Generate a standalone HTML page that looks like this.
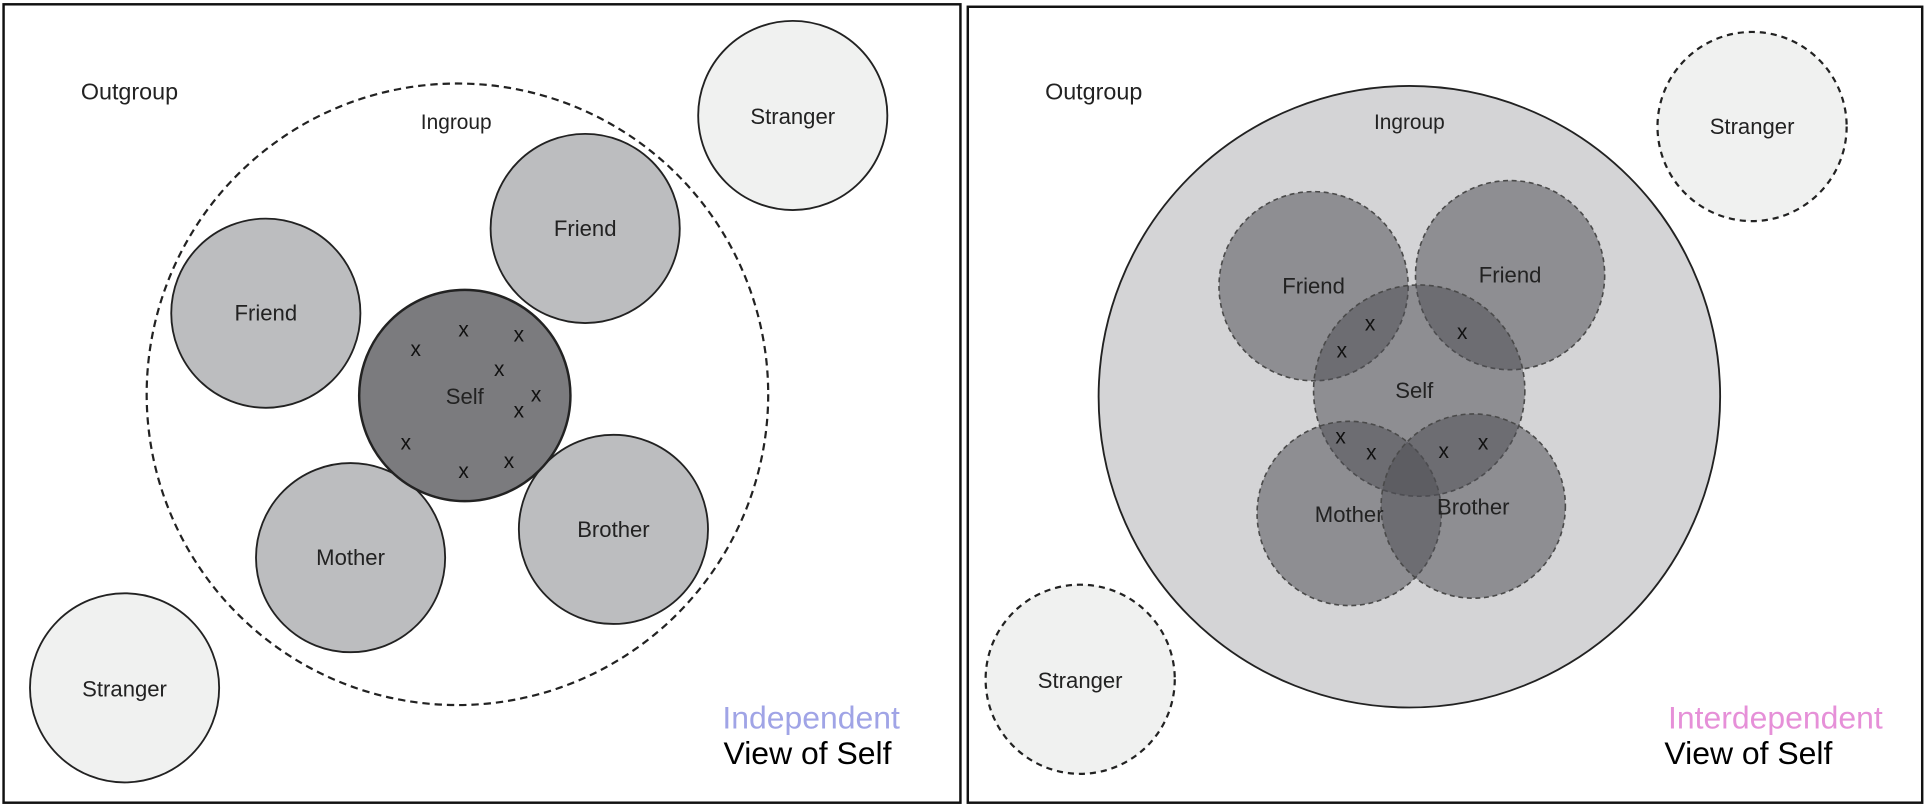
<!DOCTYPE html>
<html><head><meta charset="utf-8"><style>
html,body{margin:0;padding:0;background:#fff;}
svg{display:block}
text{font-family:"Liberation Sans",sans-serif;}
</style></head><body>
<svg width="1927" height="807" viewBox="0 0 1568 657" xmlns="http://www.w3.org/2000/svg">
<rect x="0" y="0" width="1568" height="657" fill="#fff"/>
<!-- Left panel -->
<rect x="2.5" y="3.5" width="779" height="650" fill="none" stroke="#111" stroke-width="2"/>
<text x="105" y="81" font-size="19" text-anchor="middle" fill="#222">Outgroup</text>
<circle cx="372" cy="321" r="253" fill="none" stroke="#222" stroke-width="1.8" stroke-dasharray="6,4"/>
<text x="371" y="105" font-size="17" text-anchor="middle" fill="#222">Ingroup</text>
<g stroke="#222" stroke-width="1.5">
<circle cx="645" cy="94" r="77" fill="#f0f1f0"/>
<circle cx="476" cy="186" r="77" fill="#bcbdbf"/>
<circle cx="216" cy="255" r="77" fill="#bcbdbf"/>
<circle cx="285" cy="454" r="77" fill="#bcbdbf"/>
<circle cx="499" cy="431" r="77" fill="#bcbdbf"/>
<circle cx="378" cy="322" r="86" fill="#7b7b7e" stroke-width="2"/>
<circle cx="101" cy="560" r="77" fill="#f0f1f0"/>
</g>
<g font-size="18" text-anchor="middle" fill="#222">
<text x="645" y="101">Stranger</text>
<text x="476" y="192">Friend</text>
<text x="216" y="261">Friend</text>
<text x="378" y="329">Self</text>
<text x="285" y="460">Mother</text>
<text x="499" y="437">Brother</text>
<text x="101" y="567">Stranger</text>
</g>
<g font-size="17" text-anchor="middle" fill="#111">
<text x="338" y="290">x</text><text x="377" y="274">x</text><text x="422" y="278">x</text>
<text x="406" y="306">x</text><text x="436" y="327">x</text><text x="422" y="340">x</text>
<text x="330" y="366">x</text><text x="377" y="389">x</text><text x="414" y="381">x</text>
</g>
<text x="660" y="593" font-size="26" font-weight="500" text-anchor="middle" fill="#a0a4e6">Independent</text>
<text x="657" y="622" font-size="26" font-weight="500" text-anchor="middle" fill="#000">View of Self</text>

<!-- Right panel -->
<rect x="787.5" y="5.5" width="777" height="648" fill="none" stroke="#111" stroke-width="2"/>
<text x="890" y="81" font-size="19" text-anchor="middle" fill="#222">Outgroup</text>
<circle cx="1147" cy="323" r="253" fill="#d4d4d6" stroke="#222" stroke-width="1.5"/>
<text x="1147" y="105" font-size="17" text-anchor="middle" fill="#222">Ingroup</text>
<circle cx="1426" cy="103" r="77" fill="#f0f1f0" stroke="#222" stroke-width="1.8" stroke-dasharray="5,4"/>
<circle cx="879" cy="553" r="77" fill="#f0f1f0" stroke="#222" stroke-width="1.8" stroke-dasharray="5,4"/>
<g fill="rgba(80,80,85,0.53)" stroke="#4a4a4a" stroke-width="1.3" stroke-dasharray="4,3">
<circle cx="1069" cy="233" r="77"/>
<circle cx="1229" cy="224" r="77"/>
<circle cx="1155" cy="318" r="86"/>
<circle cx="1098" cy="418" r="75"/>
<circle cx="1199" cy="412" r="75"/>
</g>
<g font-size="18" text-anchor="middle" fill="#222">
<text x="1426" y="109">Stranger</text>
<text x="1069" y="239">Friend</text>
<text x="1229" y="230">Friend</text>
<text x="1151" y="324">Self</text>
<text x="1098" y="425">Mother</text>
<text x="1199" y="419">Brother</text>
<text x="879" y="560">Stranger</text>
</g>
<g font-size="17" text-anchor="middle" fill="#111">
<text x="1115" y="269">x</text><text x="1092" y="291">x</text><text x="1190" y="276">x</text>
<text x="1091" y="361">x</text><text x="1116" y="374">x</text><text x="1175" y="373">x</text>
<text x="1207" y="366">x</text>
</g>
<text x="1445" y="593" font-size="26" font-weight="500" text-anchor="middle" fill="#e690d8">Interdependent</text>
<text x="1423" y="622" font-size="26" font-weight="500" text-anchor="middle" fill="#000">View of Self</text>
</svg>
</body></html>
